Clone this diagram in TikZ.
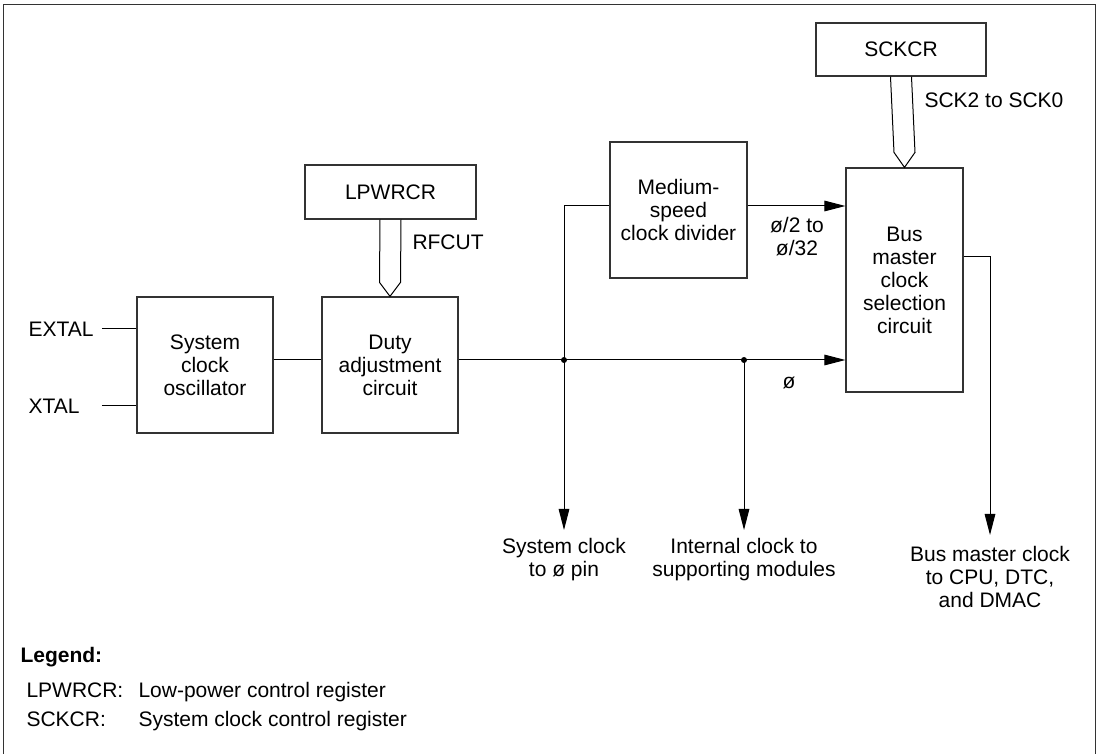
\documentclass[tikz,border=0pt]{standalone}
\usepackage{fontspec}
\setmainfont{Liberation Sans}
\usetikzlibrary{arrows.meta,positioning}

\tikzset{
  blk/.style={draw=black!80,line width=0.6pt,align=center,inner sep=2pt},
  lbl/.style={align=center,inner sep=0pt},
  sig/.style={-{Triangle[length=10.5pt,width=5.3pt]}},
}

\begin{document}
\begin{tikzpicture}[x=0.5pt,y=-0.5pt,font=\fontsize{10.5}{11.5}\selectfont,line width=0.5pt]
\useasboundingbox (0,0) rectangle (1099,754);
% frame
\draw[black!80] (3,754) -- (3,5) -- (1095,5) -- (1095,754);

% blocks
\node[blk,minimum width=68pt,minimum height=68pt] (osc) at (205,365) {System\\clock\\oscillator};
\node[blk,minimum width=68pt,minimum height=68pt] (duty) at (390,365) {Duty\\adjustment\\circuit};
\node[blk,minimum width=85.5pt,minimum height=27pt] (lpwrcr) at (390.5,192) {LPWRCR};
\node[blk,minimum width=68.5pt,minimum height=68pt] (div) at (678.5,210) {Medium-\\speed\\clock divider};
\node[blk,minimum width=58.5pt,minimum height=112pt] (bus) at (904.5,280) {Bus\\master\\clock\\selection\\circuit};
\node[blk,minimum width=85pt,minimum height=26.5pt] (sckcr) at (901,49.5) {SCKCR};

% pins
\node[lbl,anchor=west] (extal) at (28,329) {EXTAL};
\node[lbl,anchor=west] (xtal) at (28,406) {XTAL};
\draw ([xshift=4pt]extal.east) -- (osc.west |- extal.east);
\draw ([xshift=11pt]xtal.east) -- (osc.west |- xtal.east);

% clock line
\coordinate (j1) at (564,360);
\coordinate (j2) at (744,360);
\draw (osc.east |- j1) -- (duty.west |- j1);
\draw[sig] (duty.east |- j1) -- (bus.west |- j1);
\fill (j1) circle (3);
\fill (j2) circle (3);
\draw (j1) |- (div.west |- 0,206);
\draw[sig] (div.east |- 0,206) -- (bus.west |- 0,206);

% outputs
\node[lbl,anchor=north] (out1) at (564,538) {System clock\\to ø pin};
\node[lbl,anchor=north] (out2) at (744,538) {Internal clock to\\supporting modules};
\node[lbl,anchor=north] (out3) at (990,546) {Bus master clock\\to CPU, DTC,\\and DMAC};
\draw[sig] (j1) -- ([yshift=4pt]out1.north);
\draw[sig] (j2) -- ([yshift=4pt]out2.north);
\coordinate (bt) at (990,257);
\draw[sig] (bus.east |- bt) -- (bt) -- ([yshift=5.5pt]out3.north);

% register buses
\draw ([xshift=-5.25pt]lpwrcr.south) -- ([xshift=-5.25pt,yshift=7pt]duty.north) -- (duty.north)
  -- ([xshift=5.25pt,yshift=7pt]duty.north) -- ([xshift=5.25pt]lpwrcr.south);
\draw ([xshift=-5.25pt]sckcr.south) -- ([xshift=-5.25pt,yshift=7.5pt]bus.north) -- (bus.north)
  -- ([xshift=5.25pt,yshift=7.5pt]bus.north) -- ([xshift=5.25pt]sckcr.south);

% signal labels
\node[lbl,anchor=west] (rfcut) at (412,242) {RFCUT};
\node[lbl,anchor=west] (sck) at (924,100) {SCK2 to SCK0};
\node[lbl] (divout) at (797,237) {ø/2 to\\ø/32};
\node[lbl] (phi) at (789,383) {ø};

% legend
\node[lbl,anchor=base west,font=\fontsize{10.5}{11}\selectfont\bfseries] (leg) at (20,662) {Legend:};
\node[lbl,anchor=base west] (lk1) at (26,697) {LPWRCR:};
\node[lbl,anchor=base west] (lt1) at (138,697) {Low-power control register};
\node[lbl,anchor=base west] (lk2) at (26,726) {SCKCR:};
\node[lbl,anchor=base west] (lt2) at (138,726) {System clock control register};
\end{tikzpicture}
\end{document}
